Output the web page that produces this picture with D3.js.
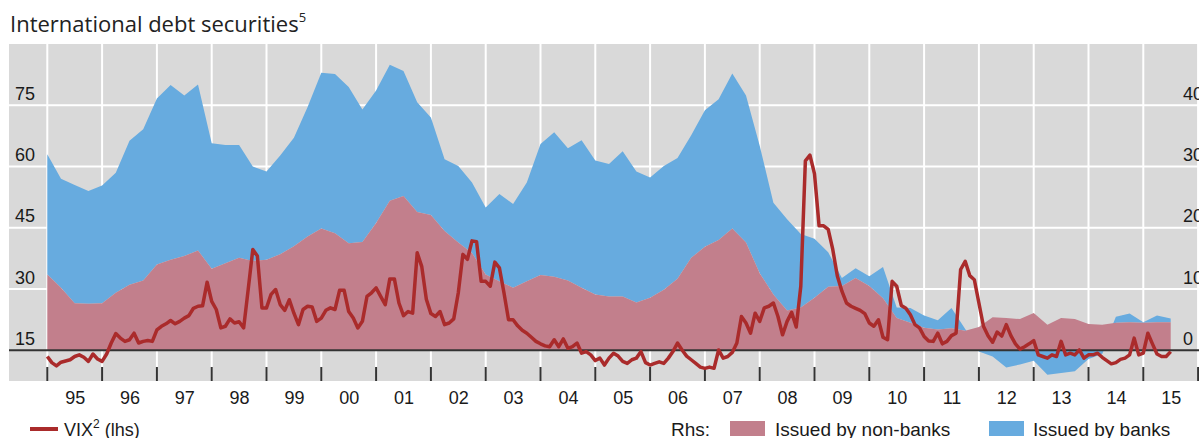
<!DOCTYPE html>
<html>
<head>
<meta charset="utf-8">
<script src="https://cdn.jsdelivr.net/npm/d3@7"></script>
<style>
  body { margin: 0; background: #fff; }
  svg { display: block; }
  text { font-family: "Liberation Sans", Arial, sans-serif; fill: #1a1a1a; }
  .title { font-family: "Open Sans", "Noto Sans", sans-serif; }
</style>
</head>
<body>
<svg width="1199" height="438"></svg>
<script>
"use strict";

// quarterly, rhs units, starting 1995 Q1
var nonBanks = [
  12.4, 10.2, 7.7, 7.6,
  7.7, 9.4, 10.7, 11.4,
  14.0, 14.8, 15.4, 16.3,
  13.3, 14.2, 15.1, 14.6,
  14.8, 15.7, 17.0, 18.6,
  19.9, 19.1, 17.5, 17.7,
  20.8, 24.4, 25.2, 22.6,
  22.1, 19.5, 17.6, 15.9,
  12.4, 11.3, 10.2, 11.3,
  12.3, 12.0, 11.4, 10.2,
  9.1, 8.8, 8.8, 7.8,
  8.6, 9.9, 11.7, 15.1,
  16.9, 18.0, 19.9, 17.6,
  12.6, 9.1, 6.5, 7.0,
  8.6, 10.4, 10.5, 11.8,
  10.5, 8.5, 5.3, 4.5,
  3.7, 3.4, 3.6, 3.2,
  3.8, 5.4, 5.3, 5.1,
  6.1, 4.2, 5.3, 5.1,
  4.3, 4.2, 4.5, 4.6,
  4.5, 4.6, 4.6
];
var banks = [
  19.6, 17.8, 19.3, 18.4,
  19.2, 19.6, 23.5, 24.7,
  27.1, 28.5, 26.2, 27.1,
  20.5, 19.3, 18.4, 15.4,
  14.4, 16.1, 17.7, 21.1,
  25.4, 26.0, 25.5, 21.6,
  21.6, 22.2, 20.4, 17.9,
  15.9, 11.7, 12.5, 11.5,
  10.9, 14.2, 13.7, 16.1,
  21.4, 23.6, 21.6, 24.1,
  21.9, 21.6, 23.7, 21.4,
  19.6, 20.2, 19.7, 20.0,
  22.3, 23.0, 25.3, 24.0,
  20.8, 15.0, 14.9, 12.0,
  9.6, 5.6, 1.3, 1.6,
  1.6, 5.1, 1.7, 2.4,
  2.0, 1.5, 3.3, 0.3,
  -0.2, -1.0, -2.8, -2.3,
  -1.7, -4.0, -3.7, -3.4,
  -1.4, -0.6, 1.0, 1.4,
  0.1, 1.1, 0.6
];

// monthly, lhs units, starting Jan 1995
var vix = [
  13.5, 12.0, 11.2, 12.1, 12.4, 12.7, 13.5, 13.9, 13.3, 12.3, 14.1, 12.9,
  12.3, 14.1, 16.8, 19.1, 18.0, 17.2, 17.6, 19.2, 16.8, 17.2, 17.4, 17.2,
  20.0, 20.9, 21.5, 22.3, 21.5, 22.1, 22.9, 23.5, 25.3, 25.8, 25.9, 31.7,
  27.0, 25.0, 20.5, 20.9, 22.7, 21.7, 22.0, 20.5, 30.0, 39.7, 38.1, 25.4,
  25.4, 28.7, 29.9, 26.2, 24.8, 27.4, 24.1, 21.3, 25.0, 25.8, 25.6, 22.1,
  22.9, 24.8, 25.4, 25.0, 29.7, 29.7, 24.5, 22.9, 20.5, 22.1, 28.2, 29.1,
  30.3, 28.2, 26.2, 32.5, 32.5, 26.6, 23.5, 24.5, 24.1, 38.9, 35.5, 27.5,
  24.0, 23.3, 24.5, 21.3, 21.7, 22.7, 29.1, 38.5, 37.3, 41.8, 41.6, 31.9,
  31.9, 30.7, 36.6, 35.2, 29.1, 22.5, 22.5, 21.0, 19.9, 19.2, 18.2, 17.2,
  16.6, 16.1, 15.9, 17.6, 15.9, 17.8, 15.5, 15.9, 16.8, 14.3, 14.7, 13.9,
  12.5, 13.1, 11.4, 13.1, 14.3, 13.6, 12.3, 11.8, 12.7, 13.1, 14.7, 12.0,
  11.4, 11.8, 12.2, 11.8, 13.1, 14.7, 16.8, 15.1, 13.6, 12.7, 11.8, 10.9,
  10.6, 10.9, 10.6, 15.1, 13.1, 13.5, 14.5, 16.8, 23.3, 21.7, 19.2, 24.1,
  22.1, 25.4, 25.8, 26.6, 23.3, 18.8, 22.1, 24.3, 20.7, 30.7, 61.4, 62.8,
  58.2, 45.5, 45.5, 44.6, 39.7, 33.2, 29.5, 26.6, 25.8, 25.3, 24.8, 24.0,
  21.7, 20.9, 22.5, 18.2, 17.6, 31.9, 30.7, 26.0, 25.3, 23.7, 21.3, 20.5,
  18.4, 17.3, 17.2, 19.2, 16.6, 17.2, 18.6, 19.2, 34.8, 36.8, 33.3, 32.3,
  26.6, 20.9, 18.6, 17.0, 19.5, 18.5, 21.3, 18.6, 16.6, 15.3, 15.9, 16.6,
  17.4, 13.9, 13.5, 13.1, 13.9, 13.5, 17.2, 13.9, 14.3, 13.9, 15.1, 13.1,
  13.9, 13.9, 14.3, 13.3, 12.5, 11.7, 12.0, 12.8, 13.1, 13.9, 18.0, 13.9,
  14.3, 19.2, 16.6, 14.1, 13.5, 13.5, 14.7
];

var years = d3.range(1995, 2016);
var yearLabels = ["95", "96", "97", "98", "99", "00", "01", "02", "03", "04",
                  "05", "06", "07", "08", "09", "10", "11", "12", "13", "14", "15"];
var lhsTicks = [15, 30, 45, 60, 75];
var rhsTicks = [0, 10, 20, 30, 40];

var svg = d3.select('svg');
var chartW = 1199;

var plotTop = 44, plotBottom = 381, panelLeft = 9;

var x = d3.scaleLinear().domain([1995, 2016]).range([47.3, 47.3 + 21 * 54.8]);
var yL = d3.scaleLinear().domain([7.5, 90]).range([plotBottom, plotTop]);
var yR = d3.scaleLinear().domain([-5, 50]).range([plotBottom, plotTop]);

// panel
svg.append('rect')
    .attr('x', panelLeft).attr('y', plotTop)
    .attr('width', chartW - panelLeft).attr('height', plotBottom - plotTop)
    .attr('fill', '#d9d9d9');

// grid
svg.append('g').selectAll('line')
    .data(rhsTicks.slice(1))
    .enter().append('line')
    .attr('x1', panelLeft).attr('x2', chartW)
    .attr('y1', function(d) { return yR(d); })
    .attr('y2', function(d) { return yR(d); })
    .attr('stroke', '#fff').attr('stroke-width', 2);

svg.append('g').selectAll('line')
    .data(years.concat([2016]))
    .enter().append('line')
    .attr('x1', function(d) { return x(d); })
    .attr('x2', function(d) { return x(d); })
    .attr('y1', plotTop).attr('y2', plotBottom)
    .attr('stroke', '#fff').attr('stroke-width', 2);

// stacked areas (rhs)
var rows = nonBanks.map(function(v, i) {
  return { t: 1995 + i / 4, nonBanks: v, banks: banks[i] };
});
var series = d3.stack()
    .keys(['nonBanks', 'banks'])
    .offset(d3.stackOffsetDiverging)(rows);

var area = d3.area()
    .x(function(d) { return x(d.data.t); })
    .y0(function(d) { return yR(d[0]); })
    .y1(function(d) { return yR(d[1]); });

svg.append('path').datum(series[1])
    .attr('d', area).attr('fill', '#67abdf');
svg.append('path').datum(series[0])
    .attr('d', area).attr('fill', '#c27f8c');

// zero line + year ticks
svg.append('line')
    .attr('x1', panelLeft).attr('x2', chartW)
    .attr('y1', yR(0)).attr('y2', yR(0))
    .attr('stroke', '#333').attr('stroke-width', 2);

svg.append('g').selectAll('line')
    .data(years.concat([2016]))
    .enter().append('line')
    .attr('x1', function(d) { return x(d); })
    .attr('x2', function(d) { return x(d); })
    .attr('y1', 367).attr('y2', plotBottom)
    .attr('stroke', '#333').attr('stroke-width', 2);

// VIX line (lhs)
var vixLine = d3.line()
    .x(function(d, i) { return x(1995 + i / 12); })
    .y(function(d) { return yL(d); });

svg.append('path').datum(vix)
    .attr('d', vixLine)
    .attr('fill', 'none')
    .attr('stroke', '#aa2b2b')
    .attr('stroke-width', 3.5)
    .attr('stroke-linejoin', 'round');

// axes
var gl = svg.append('g')
    .attr('transform', 'translate(15,0)')
    .call(d3.axisRight(yL).tickValues(lhsTicks).tickSize(0).tickPadding(0));
var gr = svg.append('g')
    .attr('transform', 'translate(1183,0)')
    .call(d3.axisRight(yR).tickValues(rhsTicks).tickSize(0).tickPadding(0));
var gb = svg.append('g')
    .attr('transform', 'translate(0,404)')
    .call(d3.axisBottom(x)
        .tickValues(years.map(function(d) { return d + 0.5; }))
        .tickFormat(function(d, i) { return yearLabels[i]; })
        .tickSize(0).tickPadding(0));

[gl, gr, gb].forEach(function(g) {
  g.select('.domain').remove();
  g.selectAll('text')
      .attr('font-family', null)
      .attr('font-size', null)
      .style('font-size', '18px')
      .style('fill', '#1a1a1a');
});
gl.selectAll('text').attr('dy', null).attr('y', -6);
gr.selectAll('text').attr('dy', null).attr('y', -6);
gb.selectAll('text').attr('dy', null).attr('y', 0);

// title
var title = svg.append('text')
    .attr('class', 'title')
    .attr('x', 10).attr('y', 32)
    .style('font-size', '22px')
    .style('fill', '#222');
title.append('tspan').text('International debt securities');
title.append('tspan').attr('dy', -10).style('font-size', '13px').text('5');

// legend
var legend = svg.append('g').style('font-size', '19px');
legend.append('line')
    .attr('x1', 30).attr('x2', 58).attr('y1', 429).attr('y2', 429)
    .attr('stroke', '#aa2b2b').attr('stroke-width', 4);
var vt = legend.append('text').attr('x', 64).attr('y', 436).style('font-size', '18px');
vt.append('tspan').text('VIX');
vt.append('tspan').attr('dy', -8).style('font-size', '12px').text('2');
vt.append('tspan').attr('dy', 8).text(' (lhs)');

legend.append('text').attr('x', 671).attr('y', 436).text('Rhs:');
legend.append('rect')
    .attr('x', 730).attr('y', 421).attr('width', 35).attr('height', 15)
    .attr('fill', '#c27f8c');
legend.append('text').attr('x', 775).attr('y', 436).text('Issued by non-banks');
legend.append('rect')
    .attr('x', 989).attr('y', 421).attr('width', 35).attr('height', 15)
    .attr('fill', '#67abdf');
legend.append('text').attr('x', 1033).attr('y', 436).text('Issued by banks');
</script>
</body>
</html>
